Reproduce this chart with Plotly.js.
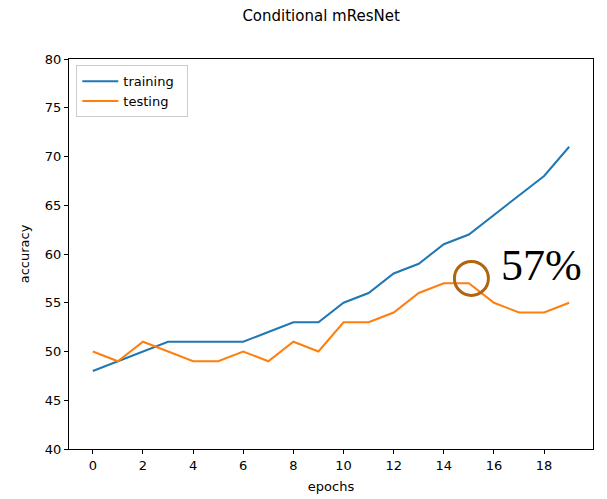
<!DOCTYPE html>
<html><head><meta charset="utf-8">
<script src="https://cdn.plot.ly/plotly-3.0.1.min.js"></script>
<style>body{margin:0;background:#fff}#c{width:607px;height:499px}</style>
</head><body><div id="c"></div>
<script>
const epochs = [0,1,2,3,4,5,6,7,8,9,10,11,12,13,14,15,16,17,18,19];
const training = [48,49,50,51,51,51,51,52,53,53,55,56,58,59,61,62,64,66,68,71];
const testing = [50,49,51,50,49,49,50,49,51,50,53,53,54,56,57,57,55,54,54,55];
const highlight = {epoch: 15.1, value: 57.5, label: "57%"};
const xTicks = [0,2,4,6,8,10,12,14,16,18];
const yTicks = [40,45,50,55,60,65,70,75,80];

const font = {family: "DejaVu Sans", size: 13, color: "#000"};
const traces = [
  {x: epochs, y: training, name: "training  ", mode: "lines", line: {color: "#1f77b4", width: 2}},
  {x: epochs, y: testing, name: "testing", mode: "lines", line: {color: "#ff7f0e", width: 2}},
  {x: [highlight.epoch], y: [highlight.value], mode: "markers", showlegend: false,
   marker: {symbol: "circle-open", size: 34, color: "#b0650f", line: {width: 3, color: "#b0650f"}}}
];
const axisBase = {showline: true, mirror: true, linecolor: "#000", linewidth: 1, ticks: "outside",
  ticklen: 4, tickcolor: "#000", showgrid: false, zeroline: false, tickfont: font};
const layout = {
  width: 607, height: 499,
  margin: {l: 69, r: 14, t: 59, b: 50},
  paper_bgcolor: "#fff", plot_bgcolor: "#fff",
  font: font,
  title: {text: "Conditional mResNet", font: {family: "DejaVu Sans", size: 15, color: "#000"},
    xref: "container", x: 0.529, xanchor: "center", yref: "container", y: 0.968, yanchor: "middle"},
  xaxis: Object.assign({}, axisBase, {range: [-0.95, 19.95], tickvals: xTicks,
    title: {text: "epochs", font: font, standoff: 10}}),
  yaxis: Object.assign({}, axisBase, {range: [40, 80], tickvals: yTicks,
    title: {text: "accuracy", font: font, standoff: 12}}),
  legend: {x: 0.014, y: 0.984, xanchor: "left", yanchor: "top", bgcolor: "rgba(255,255,255,0.8)",
    bordercolor: "#ccc", borderwidth: 1, font: font, itemwidth: 36},
  annotations: [{x: highlight.epoch + 1.1, y: highlight.value + 1.3, xref: "x", yref: "y",
    text: highlight.label, showarrow: false, xanchor: "left", yanchor: "middle",
    font: {family: "Liberation Serif", size: 44, color: "#000"}}]
};
Plotly.newPlot("c", traces, layout, {staticPlot: true});
</script></body></html>
